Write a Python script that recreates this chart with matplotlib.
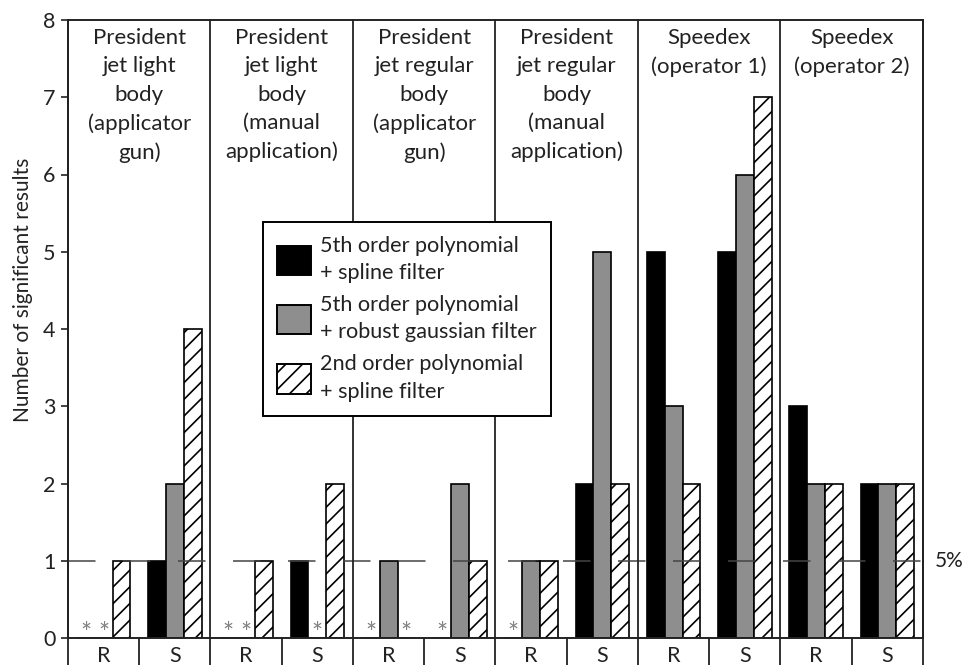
import matplotlib.pyplot as plt
import matplotlib.transforms as mtransforms
from matplotlib.patches import Patch
import numpy as np

plt.rcParams['font.family'] = ['Lato', 'DejaVu Sans']
plt.rcParams['hatch.linewidth'] = 1.2

# Six test conditions, each split into R and S columns
groups = ["President\njet light\nbody\n(applicator\ngun)",
          "President\njet light\nbody\n(manual\napplication)",
          "President\njet regular\nbody\n(applicator\ngun)",
          "President\njet regular\nbody\n(manual\napplication)",
          "Speedex\n(operator 1)",
          "Speedex\n(operator 2)"]
sub_labels = ["R", "S"] * 6

# number of significant results per column (R, S for each group)
poly5_spline = [0, 1, 0, 1, 0, 0, 0, 2, 5, 5, 3, 2]
poly5_gauss = [0, 2, 0, 0, 1, 2, 1, 5, 3, 6, 2, 2]
poly2_spline = [1, 4, 1, 2, 0, 1, 1, 2, 2, 7, 2, 2]

series = [
    (poly5_spline, "5th order polynomial\n+ spline filter", dict(facecolor="black")),
    (poly5_gauss, "5th order polynomial\n+ robust gaussian filter", dict(facecolor="#8e8e8e")),
    (poly2_spline, "2nd order polynomial\n+ spline filter", dict(facecolor="white", hatch="//")),
]

fig = plt.figure(figsize=(9.7, 6.65), dpi=100)
ax = fig.add_axes([68 / 970, 1 - 638 / 665, (923 - 68) / 970, 618 / 665])

x = np.arange(len(sub_labels))
w = 0.25
handles = []
for k, (vals, lab, style) in enumerate(series):
    pos = x + (k - 1) * w
    ax.bar(pos, vals, width=w, edgecolor="black", linewidth=1.2, zorder=2, **style)
    handles.append(Patch(edgecolor="black", linewidth=1.4, label=lab, **style))
    # zero counts are flagged with an asterisk
    for p, v in zip(pos, vals):
        if v == 0:
            ax.text(p, -0.12, "*", ha="center", va="bottom", fontsize=19,
                    color="#808080", zorder=3)

# 5% significance level
ax.axhline(1, color="#444444", linewidth=1.1, dashes=(18, 18), zorder=4)
trans = mtransforms.blended_transform_factory(ax.transAxes, ax.transData)
ax.text(1.014, 1, "5%", transform=trans, ha="left", va="center", fontsize=15,
        color="#222222")

ax.set_xlim(-0.5, len(sub_labels) - 0.5)
ax.set_ylim(0, 8)
ax.set_yticks(range(9))
ax.tick_params(axis="y", direction="out", length=5, width=1.2, labelsize=15.5, pad=4,
               colors="#222222")
ax.set_xticks([])
for sp in ax.spines.values():
    sp.set_linewidth(1.4)
    sp.set_color("#222222")

ax.set_ylabel("Number of significant results", fontsize=15, color="#222222")
ax.yaxis.set_label_coords(-0.041, 0.563)

# group dividers run through the plot and the label row below it
xtrans = mtransforms.blended_transform_factory(ax.transData, ax.transAxes)
for b in np.arange(-0.5, len(sub_labels), 2):
    ax.plot([b, b], [-0.1, 1], transform=xtrans, color="#222222", linewidth=1.3,
            clip_on=False, zorder=5)
for b in np.arange(0.5, len(sub_labels), 2):
    ax.plot([b, b], [-0.1, 0], transform=xtrans, color="#222222", linewidth=1.3,
            clip_on=False, zorder=5)

for xi, lab in zip(x, sub_labels):
    ax.text(xi, -0.029, lab, transform=xtrans, ha="center", va="center",
            fontsize=15.5, color="#222222")

for g, title in enumerate(groups):
    ax.text(2 * g + 0.5, 0.987, title, transform=xtrans, ha="center", va="top",
            fontsize=16, linespacing=1.52, color="#222222")

leg = ax.legend(handles=handles, loc="upper left", bbox_to_anchor=(0.228, 0.673),
                fontsize=15.6, frameon=True, fancybox=False, framealpha=1,
                edgecolor="black", handlelength=1.55, handleheight=1.7,
                handletextpad=0.45, labelspacing=0.55, borderpad=0.65,
                borderaxespad=0)
leg.get_frame().set_linewidth(1.4)
leg.set_zorder(6)
for t in leg.get_texts():
    t.set_linespacing(1.45)
    t.set_color("#222222")

fig.savefig("out.png", dpi=100)
